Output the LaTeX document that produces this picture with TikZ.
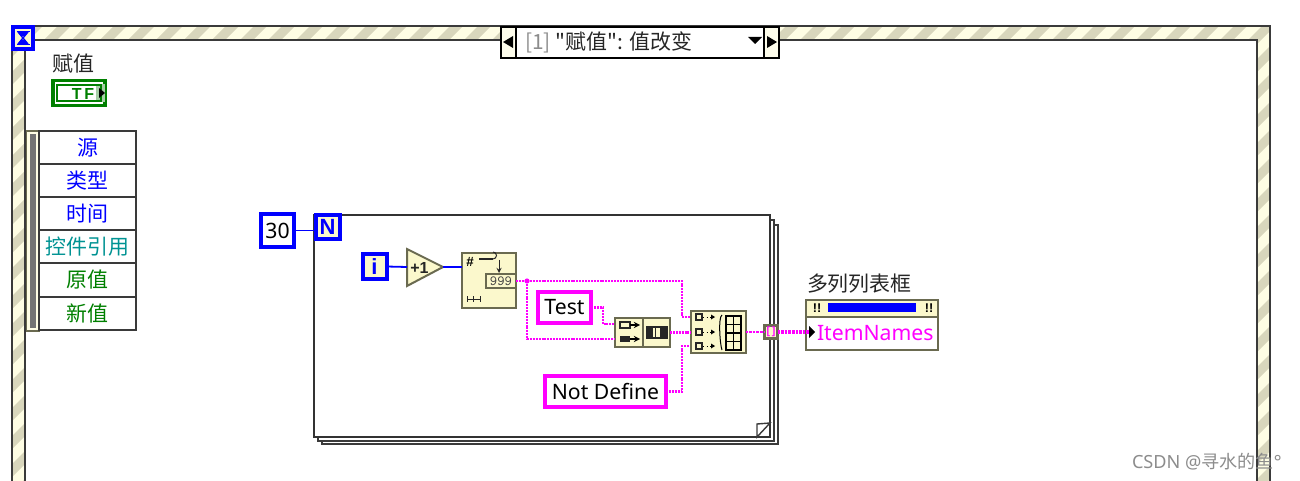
\documentclass[tikz,border=0pt]{standalone}
\usepackage{fontspec}
\setmainfont{Noto Sans}
\newfontfamily\cjk{Noto Sans CJK SC}
\newfontfamily\bfam{Liberation Sans}
\newdimen\pu \pu=.75pt
\definecolor{ly}{HTML}{FBF8CC}
\definecolor{lyb}{HTML}{FEFDE4}
\definecolor{stripe}{HTML}{D8D6BC}
\definecolor{edge}{HTML}{6A6A50}
\definecolor{fr}{HTML}{3A3A3A}
\definecolor{lvb}{HTML}{0000FF}
\definecolor{lvp}{HTML}{FF00FF}
\definecolor{lvg}{HTML}{008000}
\tikzset{
  every node/.style={inner sep=0pt,outer sep=0pt},
  zh/.style={font=\cjk\fontsize{15.7pt}{17pt}\selectfont},
  lat/.style={font=\fontsize{15.9pt}{17pt}\selectfont},
  cbox/.style={draw=lvb,line width=4*\pu,fill=white,text=black,lat},
  iblue/.style={draw=lvb,line width=4*\pu,fill=ly,text=lvb,font=\bfam\bfseries\fontsize{16.5pt}{17pt}\selectfont},
  pbox/.style={draw=lvp,line width=4.5*\pu,fill=white,text=black,lat},
  func/.style={draw=edge,line width=2*\pu,fill=ly},
  bw/.style={draw=lvb,line width=1.8*\pu},
  strw/.style={draw=lvp,line width=2.8*\pu,dash pattern=on 2*\pu off .9*\pu},
  arrw/.style={draw=lvp,line width=4*\pu,dash pattern=on 2.6*\pu off 1*\pu},
  row/.style={draw=fr,line width=1.6*\pu,fill=white,minimum width=97*\pu,minimum height=33*\pu,zh},
  ico/.style={draw=black!85,line width=1.1*\pu,fill=none},
}
\begin{document}
\begin{tikzpicture}[x=.75pt,y=-.75pt]
\useasboundingbox (0,0) rectangle (1300,481);
% striped frame
\begin{scope}
\clip (12,481) -- (12,26) -- (1270,26) -- (1270,481) -- (1257,481) -- (1257,40) -- (25,40) -- (25,481) -- cycle;
\fill[lyb] (0,0) rectangle (1300,481);
\foreach \c in {0,28,...,1800} {\fill[stripe] (\c,0) -- (\c+13,0) -- (\c+13-500,500) -- (\c-500,500) -- cycle;}
\end{scope}
\draw[fr,line width=2.2*\pu] (12,481) -- (12,26) -- (1270,26) -- (1270,481);
\draw[fr,line width=2.2*\pu] (25,481) -- (25,40) -- (1257,40) -- (1257,481);
% hourglass
\node[draw=lvb,line width=4*\pu,fill=ly,minimum width=20*\pu,minimum height=22*\pu] (hg) at (23,38) {};
\fill[lvb] (18,32) -- (28,32) -- (25,36) -- (21,36) -- cycle;
\fill[lvb] (21,40) -- (25,40) -- (28,44) -- (18,44) -- cycle;
\draw[lvb,line width=1.6*\pu] (16.5,31.5) -- (29.5,31.5) (16.5,44.5) -- (29.5,44.5);
\draw[lvb,line width=1.4*\pu] (18,32) -- (23,38) -- (18,44) (28,32) -- (23,38) -- (28,44);
% selector
\node[draw=black,line width=1.5*\pu,fill=white,minimum width=278*\pu,minimum height=31*\pu] (sel) at (640,42.5) {};
\node[draw=black,line width=1.5*\pu,fill=ly!40,minimum width=15*\pu,minimum height=31*\pu] (selL) at (508.5,42.5) {};
\node[draw=black,line width=1.5*\pu,fill=ly!40,minimum width=15*\pu,minimum height=31*\pu] (selR) at (771.5,42.5) {};
\fill[black] (503,42) -- (513,36) -- (513,48) -- cycle;
\fill[black] (777,42) -- (767,36) -- (767,48) -- cycle;
\fill[black] (748,37) -- (762,37) -- (755,44) -- cycle;
\node[anchor=west,font=\cjk\fontsize{15.7pt}{17pt}\selectfont,text=black!85] (seltxt) at (525,42) {{\color{black!45}[1]} "赋值": 值改变};
% label + boolean
\node[zh,text=black!85] (lab) at (73.5,63.5) {赋值};
\node[draw=lvg,line width=3.4*\pu,fill=white,minimum width=52*\pu,minimum height=25*\pu] (bool) at (79,93) {};
\fill[green!45!black!35] (96,84) rectangle (105,102);
\draw[lvg,line width=1.6*\pu] (57,85) rectangle (101,101);
\node[text=lvg,font=\bfam\bfseries\fontsize{12pt}{13pt}\selectfont] (tf) at (83,93.5) {T\,F};
\fill[black] (99,88) -- (105,93) -- (99,98) -- cycle;
% event data node
\node[draw=edge,line width=1.6*\pu,fill=lyb,minimum width=13*\pu,minimum height=200*\pu] (evbar) at (33,231) {};
\fill[black!55] (29.5,134) rectangle (36,328);
\node[row,text=lvb] (r1) at (87.5,147.5) {源};
\node[row,text=lvb] (r2) at (87.5,180.5) {类型};
\node[row,text=lvb] (r3) at (87.5,213.5) {时间};
\node[row,text=teal!85!cyan] (r4) at (87.5,246.5) {控件引用};
\node[row,text=lvg] (r5) at (87.5,280) {原值};
\node[row,text=lvg] (r6) at (87.5,313.5) {新值};
% for loop stack
\draw[fr,line width=1.6*\pu,fill=white] (322,225) rectangle (778,444);
\draw[fr,line width=1.6*\pu,fill=white] (318,220) rectangle (774,441);
\draw[black!80,line width=2*\pu,fill=white] (314,215) rectangle (770,437);
\draw[fr,line width=1.4*\pu,fill=white] (757,437) -- (757,424) -- (770,423) -- cycle;
% terminals
\node[cbox,minimum width=33*\pu,minimum height=33*\pu] (n30) at (277.5,230.5) {30};
\node[iblue,minimum width=24*\pu,minimum height=24*\pu] (N) at (327.5,227) {N};
\node[iblue,minimum width=24*\pu,minimum height=24*\pu] (i) at (374.5,266.5) {i};
\draw[func] (407,249) -- (443,267) -- (407,286) -- cycle;
\node[minimum width=36*\pu,minimum height=4*\pu] (inc) at (425,267) {};
\node[font=\bfam\bfseries\fontsize{12pt}{13pt}\selectfont,text=black!85] (inct) at (419.5,268) {+1};
\node[func,minimum width=54*\pu,minimum height=54*\pu] (numstr) at (488.5,280.5) {};
\node[draw=edge,line width=1.4*\pu,fill=ly,minimum width=30*\pu,minimum height=14*\pu,font=\ttfamily\fontsize{10.5pt}{11pt}\selectfont,text=black!75] (n999) at (501,281) {999};
\node[font=\bfam\bfseries\fontsize{10pt}{11pt}\selectfont] (hash) at (470,262) {\#};
\draw[black!85,line width=1.8*\pu] (479,259) -- (493,259);
\draw[black!85,line width=1*\pu] (493,259) arc (90:-90:3.5);
\draw[black!85,line width=1*\pu,-stealth] (499,260) -- (499,273);
\draw[black!85,line width=1*\pu] (467,299) -- (480,299) (467,296) -- (467,302) (473,296) -- (473,302) (480,296) -- (480,302);
% magenta constants
\node[pbox,minimum width=53*\pu,minimum height=31*\pu] (test) at (564.5,307.5) {Test};
\node[pbox,minimum width=121*\pu,minimum height=31*\pu] (nd) at (605.5,391.5) {Not Define};
% concat
\node[func,minimum width=55*\pu,minimum height=29*\pu] (concat) at (642.5,332.5) {};
\draw[edge,line width=1.4*\pu] (643,318) -- (643,347);
\draw[ico] (620,322) rectangle (630,328);
\fill[black!85] (620,336) rectangle (630,342);
\draw[black,line width=1.4*\pu,-stealth] (630,325) -- (640,325);
\draw[black,line width=1.4*\pu,-stealth] (630,339) -- (640,339);
\draw[ico] (647,327) rectangle (667,338);
\fill[black!85] (648,328) rectangle (653,337);
\fill[black!85] (660,328) rectangle (666,337);
\draw[black!85,line width=1*\pu] (655,328) -- (655,337);
% build array
\node[func,minimum width=55*\pu,minimum height=42*\pu] (build) at (718,332) {};
\foreach \y in {317,332,346} {
  \draw[ico,line width=1.3*\pu] (696,\y-3) rectangle (702,\y+3);
  \draw[black,line width=1*\pu,dotted] (703,\y) -- (714,\y);
  \fill[black] (715,\y) -- (711,\y-2.5) -- (711,\y+2.5) -- cycle;
}
\draw[black,line width=1*\pu] (722,315) .. controls (718,317) and (720,345) .. (722,350);
\draw[black,line width=1.2*\pu] (726,316) rectangle (741,350) (726,324.5) -- (741,324.5) (726,333) -- (741,333) (726,341.5) -- (741,341.5) (733.5,316) -- (733.5,350);
% tunnel
\node[draw=edge,line width=2.2*\pu,fill=ly,minimum width=13*\pu,minimum height=13*\pu,text=lvp,font=\bfam\bfseries\fontsize{8pt}{9pt}\selectfont] (tun) at (771,332) {[\,]};
% property node
\node[zh,text=black!85,anchor=west] (mlb) at (807,284) {多列列表框};
\node[draw=edge,line width=1.8*\pu,fill=white,minimum width=132*\pu,minimum height=50*\pu] (prop) at (872,325) {};
\node[draw=edge,line width=1.4*\pu,fill=ly,minimum width=132*\pu,minimum height=17*\pu] (prophd) at (872,308.5) {};
\fill[lvb] (828,303) rectangle (916,312);
\node[font=\bfam\bfseries\fontsize{9.5pt}{10pt}\selectfont] (ex1) at (817,308.5) {!!};
\node[font=\bfam\bfseries\fontsize{9.5pt}{10pt}\selectfont] (ex2) at (929,308.5) {!!};
\node[lat,text=lvp,anchor=west] (item) at (817,333.5) {ItemNames};
\coordinate (pin) at (809,332);
\fill[black] (809,326) -- (815,332) -- (809,338) -- cycle;
% wires
\draw[bw] (n30.east) -- (n30.east -| N.west);
\draw[bw] (i.east) -- (inc.west);
\draw[bw] (inc.east) -- (inc.east -| numstr.west);
\coordinate (j) at (527,281);
\coordinate (b1) at (690,317);
\coordinate (b3) at (690,346);
\coordinate (c1) at (615,324);
\coordinate (c2) at (615,339);
\draw[strw] (n999.east) -- (j);
\draw[strw] (j) -- (682,281) -- (682,317) -- (b1);
\draw[strw] (j) -- (527,339) -- (c2);
\draw[strw] (test.east) -- (603,307.5) -- (603,324) -- (c1);
\draw[strw] (concat.east) -- (concat.east -| build.west);
\draw[strw] (nd.east) -- (682,391.5) -- (682,346) -- (b3);
\draw[strw,dash pattern=on 2.6*\pu off 1*\pu] (build.east) -- (tun.west);
\draw[arrw] (tun.east) -- (pin);
\fill[lvp] (j) circle (2.6);
% watermark
\node[font=\fontsize{13.6pt}{15pt}\selectfont,text=black!45,anchor=west] (wm) at (1132,462) {CSDN @{\cjk 寻水的鱼}°};
\end{tikzpicture}
\end{document}
